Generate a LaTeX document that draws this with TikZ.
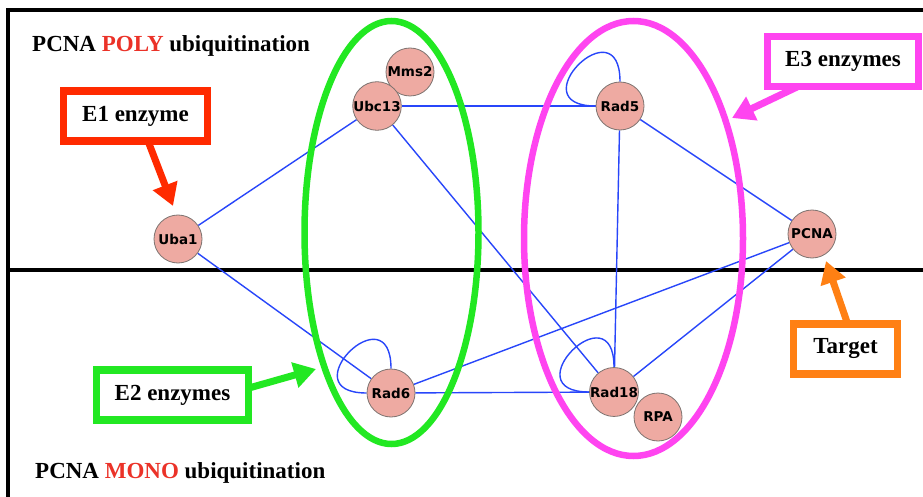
\documentclass[tikz,border=0pt]{standalone}
\usepackage{fontspec}
\setmainfont{Liberation Serif}
\newfontfamily\nodefont{DejaVu Sans}
\usetikzlibrary{arrows.meta}
\definecolor{nodefill}{RGB}{238,170,162}
\definecolor{nodeline}{RGB}{125,115,112}
\definecolor{edgeblue}{RGB}{40,70,250}
\definecolor{egreen}{RGB}{34,232,34}
\definecolor{emag}{RGB}{255,68,240}
\definecolor{ered}{RGB}{255,42,0}
\definecolor{eorange}{RGB}{255,128,20}
\definecolor{epolyred}{RGB}{235,50,40}
\begin{document}
\begin{tikzpicture}[x=1pt,y=-1pt,
  prot/.style={circle,draw=nodeline,line width=0.8pt,fill=nodefill,minimum size=48pt,inner sep=0pt,font=\nodefont\bfseries\fontsize{13.5}{14}\selectfont},
  link/.style={draw=edgeblue,line width=1.4pt},
  ring/.style={line width=6.5pt},
  labelbox/.style={draw,line width=7.5pt,fill=white,font=\bfseries\fontsize{23}{24}\selectfont,inner sep=0pt,minimum height=50pt},
  fatarrow/.style={line width=7pt,-{Triangle[width=25pt,length=22pt]}},
  frameline/.style={line width=3.8pt,black},
  title/.style={anchor=base west,inner sep=0pt,font=\bfseries\fontsize{23}{24}\selectfont}
]
\useasboundingbox (0,0) rectangle (923,497);
\fill[white] (0,0) rectangle (923,497);

% frame
\coordinate (ftl) at (8,10);
\coordinate (ftr) at (923,10);
\coordinate (fbl) at (8,497);
\coordinate (fml) at (8,270);
\coordinate (fmr) at (923,270);
\draw[frameline] (ftr) -- (ftl) -- (fbl);
\draw[frameline] (fml) -- (fmr);

% titles
\node[title] (poly) at (32,52) {PCNA \textcolor{epolyred}{POLY} ubiquitination};
\node[title] (mono) at (35,478) {PCNA \textcolor{epolyred}{MONO} ubiquitination};

% protein coordinates
\coordinate (cUba1) at (178,239);
\coordinate (cUbc13) at (377,106);
\coordinate (cMms2) at (410,72);
\coordinate (cRad5) at (620,106);
\coordinate (cPCNA) at (812,234);
\coordinate (cRad6) at (391,393);
\coordinate (cRad18) at (614,392);
\coordinate (cRPA) at (658,417);

% invisible nodes first for edges
\begin{scope}
\node[prot,draw=none,fill=none,text opacity=0] (uba1) at (cUba1) {Uba1};
\node[prot,draw=none,fill=none,text opacity=0] (ubc13) at (cUbc13) {Ubc13};
\node[prot,draw=none,fill=none,text opacity=0] (rad5) at (cRad5) {Rad5};
\node[prot,draw=none,fill=none,text opacity=0] (pcna) at (cPCNA) {PCNA};
\node[prot,draw=none,fill=none,text opacity=0] (rad6) at (cRad6) {Rad6};
\node[prot,draw=none,fill=none,text opacity=0] (rad18) at (cRad18) {Rad18};
\end{scope}

% edges
\draw[link] (uba1) -- (ubc13);
\draw[link] (uba1) -- (rad6);
\draw[link] (ubc13) -- (rad5);
\draw[link] (ubc13) -- (rad18);
\draw[link] (rad5) -- (rad18);
\draw[link] (rad5) -- (pcna);
\draw[link] (rad6) -- (rad18);
\draw[link] (rad6) -- (pcna);
\draw[link] (rad18) -- (pcna);
% self loops
\draw[link] (rad5.north) .. controls +(0,-78) and +(-78,0) .. (rad5.west);
\draw[link] (rad6.north) .. controls +(0,-78) and +(-78,0) .. (rad6.west);
\draw[link] (rad18.north) .. controls +(0,-78) and +(-78,0) .. (rad18.west);

% enzyme groups
\draw[ring,egreen] (391.5,232.5) ellipse [x radius=87, y radius=211.5];
\draw[ring,emag] (633.5,238.5) ellipse [x radius=109.5, y radius=217.5];

% visible protein nodes
\node[prot] (Uba1) at (cUba1) {Uba1};
\node[prot] (Mms2) at (cMms2) {Mms2};
\node[prot] (Ubc13) at (cUbc13) {Ubc13};
\node[prot] (Rad5) at (cRad5) {Rad5};
\node[prot] (PCNA) at (cPCNA) {PCNA};
\node[prot] (Rad6) at (cRad6) {Rad6};
\node[prot] (Rad18) at (cRad18) {Rad18};
\node[prot] (RPA) at (cRPA) {RPA};

% label boxes
\node[labelbox,draw=ered,minimum width=144pt] (e1) at (135.5,116) {E1 enzyme};
\node[labelbox,draw=emag,minimum width=151pt] (e3) at (843,61.5) {E3 enzymes};
\node[labelbox,draw=egreen,minimum width=152pt] (e2) at (172.5,395) {E2 enzymes};
\node[labelbox,draw=eorange,minimum width=104pt] (tg) at (845.5,349) {Target};

% arrows
\coordinate (e1tail) at (148,141);
\coordinate (e1tip) at (173,206);
\coordinate (e3tail) at (797,87);
\coordinate (e3tip) at (732,118);
\coordinate (e2tail) at (249,388);
\coordinate (e2tip) at (316,369);
\coordinate (tgtail) at (848,325);
\coordinate (tgtip) at (826,261);
\draw[fatarrow,ered] (e1tail) -- (e1tip);
\draw[fatarrow,emag] (e3tail) -- (e3tip);
\draw[fatarrow,egreen] (e2tail) -- (e2tip);
\draw[fatarrow,eorange] (tgtail) -- (tgtip);
\end{tikzpicture}
\end{document}
